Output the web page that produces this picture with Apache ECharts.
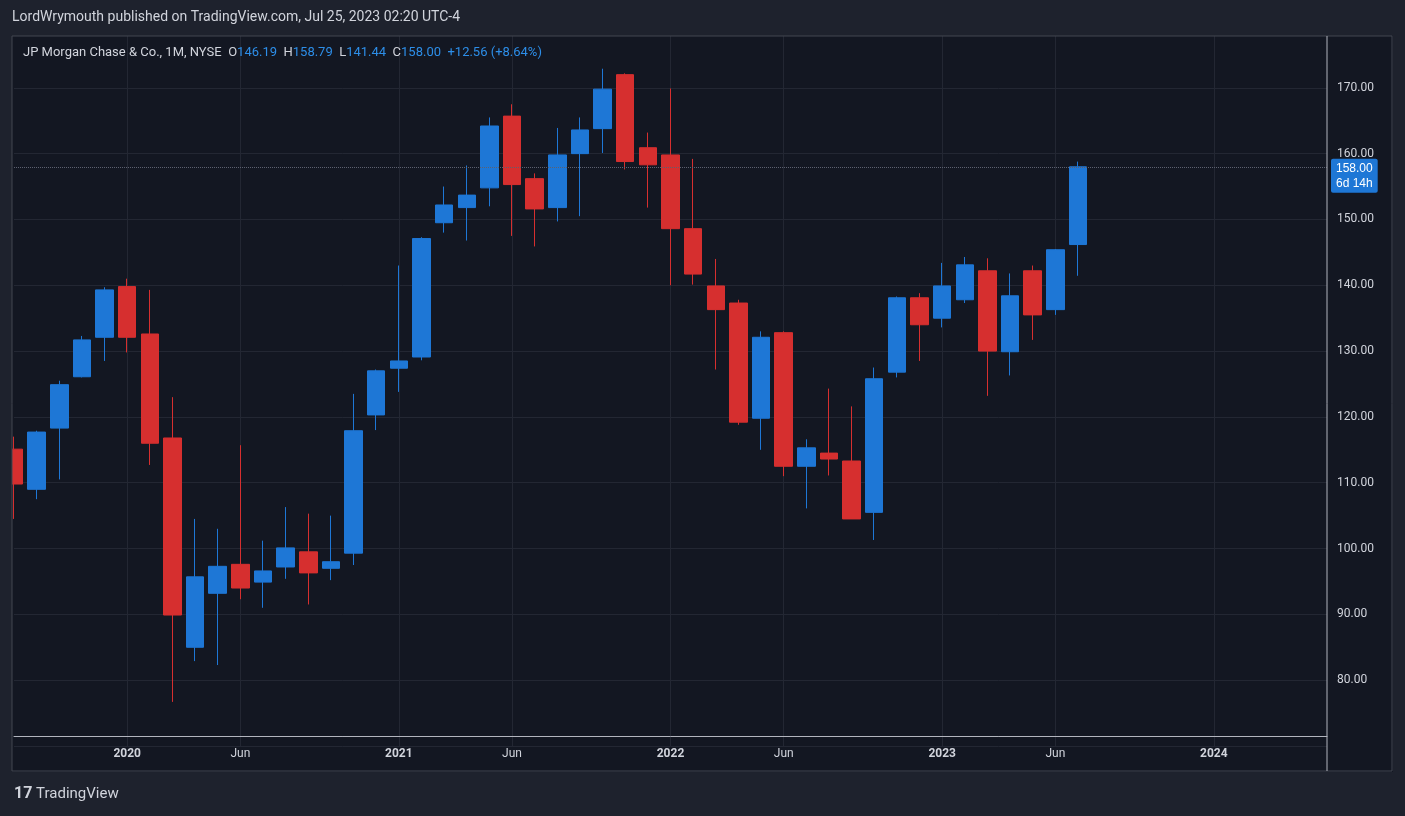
<!DOCTYPE html>
<html>
<head>
<meta charset="utf-8">
<script src="https://cdn.jsdelivr.net/npm/echarts@6/dist/echarts.min.js"></script>
<style>
  html, body { margin: 0; padding: 0; background: #1e222d; }
  #main { width: 1405px; height: 816px; }
</style>
</head>
<body>
<div id="main"></div>
<script>
// months Aug 2019 .. Jun 2024
var months = []
for (var y = 2019; y <= 2024; y++) {
    for (var m = 1; m <= 12; m++) {
        if (y === 2019 && m < 8) continue
        if (y === 2024 && m > 6) continue
        months.push(y + '-' + (m < 10 ? '0' + m : m))
    }
}

// [open, close, low, high]
var ohlc = [
    [115.1, 109.8, 104.5, 117.0],
    [109.0, 117.7, 107.5, 117.9],
    [118.3, 124.9, 110.5, 125.5],
    [126.1, 131.7, 126.0, 132.3],
    [132.1, 139.3, 128.5, 139.7],
    [139.8, 132.1, 129.8, 141.0],
    [132.6, 116.0, 112.7, 139.3],
    [116.8, 89.9, 76.7, 123.0],
    [85.0, 95.7, 82.9, 104.5],
    [93.2, 97.3, 82.3, 103.0],
    [97.6, 94.0, 92.3, 115.7],
    [94.9, 96.6, 91.0, 101.2],
    [97.2, 100.1, 95.4, 106.3],
    [99.5, 96.3, 91.5, 105.3],
    [97.0, 98.0, 95.2, 105.0],
    [99.3, 117.9, 97.5, 123.5],
    [120.3, 127.0, 118.0, 127.2],
    [127.4, 128.5, 123.8, 143.0],
    [129.1, 147.1, 128.6, 147.3],
    [149.5, 152.2, 148.0, 155.0],
    [151.8, 153.7, 146.8, 158.2],
    [154.8, 164.2, 152.0, 165.5],
    [165.7, 155.3, 147.5, 167.5],
    [156.2, 151.6, 145.9, 157.0],
    [151.8, 159.8, 149.7, 163.9],
    [160.0, 163.6, 150.5, 165.5],
    [163.8, 169.8, 160.1, 172.9],
    [172.0, 158.8, 157.6, 172.2],
    [160.9, 158.3, 151.8, 163.2],
    [159.8, 148.6, 140.0, 169.9],
    [148.6, 141.7, 140.1, 159.2],
    [139.9, 136.3, 127.2, 144.0],
    [137.3, 119.2, 118.8, 137.8],
    [119.8, 132.1, 115.0, 133.0],
    [132.8, 112.5, 111.0, 133.0],
    [112.5, 115.3, 106.1, 116.6],
    [114.5, 113.6, 111.1, 124.3],
    [113.3, 104.5, 104.5, 121.6],
    [105.5, 125.8, 101.3, 127.5],
    [126.8, 138.1, 126.0, 138.3],
    [138.1, 134.0, 128.5, 138.8],
    [135.0, 139.9, 133.6, 143.4],
    [137.8, 143.1, 137.3, 144.3],
    [142.2, 130.0, 123.2, 144.1],
    [129.9, 138.4, 126.3, 141.8],
    [142.2, 135.5, 131.7, 143.0],
    [136.3, 145.4, 135.5, 145.5],
    [146.19, 158.00, 141.44, 158.79]
]

var lastClose = 158.00

var seriesData = months.map(function (d, i) { return i < ohlc.length ? ohlc[i] : '-' })

function showMonth(i, v) {
    var m = v.slice(5)
    return (m === '01' || m === '06') && i < months.length - 1
}

var chart = echarts.init(document.getElementById('main'))
var option = {
    backgroundColor: '#131722',
    animation: false,
    grid: { left: 14, right: 78, top: 22, bottom: 70 },
    xAxis: {
        type: 'category',
        data: months,
        boundaryGap: false,
        offset: -10,
        axisLine: { lineStyle: { color: '#b2b5be', width: 1 } },
        axisTick: { show: false },
        splitLine: { show: true, interval: showMonth, lineStyle: { color: '#232733' } },
        axisLabel: {
            interval: showMonth,
            color: '#d1d4dc',
            fontSize: 12,
            margin: 12,
            fontFamily: 'Roboto, sans-serif',
            formatter: function (v) {
                return v.slice(5) === '01' ? '{y|' + v.slice(0, 4) + '}' : 'Jun'
            },
            rich: { y: { fontWeight: 'bold', color: '#d1d4dc', fontSize: 12 } }
        }
    },
    yAxis: {
        type: 'value',
        position: 'right',
        min: 70, max: 180, interval: 10,
        axisLine: { show: false },
        axisTick: { show: false },
        splitLine: { lineStyle: { color: '#232733' } },
        axisLabel: {
            showMinLabel: false, showMaxLabel: false,
            color: '#d1d4dc', fontSize: 12, margin: 10,
            fontFamily: 'Roboto, sans-serif',
            formatter: function (v) { return v.toFixed(2) }
        }
    },
    series: [{
        type: 'candlestick',
        data: seriesData,
        barWidth: 18,
        clip: true,
        itemStyle: {
            color: '#1e77d6', color0: '#d62f2f',
            borderColor: '#1e77d6', borderColor0: '#d62f2f', borderWidth: 1
        },
        markLine: {
            symbol: 'none',
            silent: true,
            data: [{ yAxis: lastClose }],
            lineStyle: { color: '#5d6170', type: 'dotted', width: 1 },
            label: {
                position: 'end',
                distance: 4,
                offset: [0, 9],
                formatter: lastClose.toFixed(2) + '\n6d 14h',
                backgroundColor: '#1e77d6',
                color: '#fff',
                fontSize: 12,
                lineHeight: 15,
                padding: [2, 5, 2, 5],
                borderRadius: 2
            }
        }
    }],
    graphic: [
        { type: 'rect', silent: true, shape: { x: 12, y: 36, width: 1380, height: 735 },
          style: { fill: 'none', stroke: '#434651', lineWidth: 1 }, z: 100 },
        { type: 'line', silent: true, shape: { x1: 1327, y1: 36, x2: 1327, y2: 771 },
          style: { stroke: '#b2b5be', lineWidth: 1 }, z: 100 },
        { type: 'rect', silent: true, shape: { x: 0, y: 0, width: 1405, height: 36 },
          style: { fill: '#1e222d' }, z: 90 },
        { type: 'rect', silent: true, shape: { x: 0, y: 772, width: 1405, height: 44 },
          style: { fill: '#1e222d' }, z: 90 },
        { type: 'rect', silent: true, shape: { x: 0, y: 0, width: 12, height: 816 },
          style: { fill: '#1e222d' }, z: 90 },
        { type: 'rect', silent: true, shape: { x: 1393, y: 0, width: 12, height: 816 },
          style: { fill: '#1e222d' }, z: 90 },
        { type: 'text', left: 12, top: 10, z: 101,
          style: { text: 'LordWrymouth published on TradingView.com, Jul 25, 2023 02:20 UTC-4',
                   fill: '#d1d4dc', fontSize: 14, fontFamily: 'Roboto, sans-serif' } },
        { type: 'text', left: 23, top: 46, z: 101,
          style: {
              text: '{n|JP Morgan Chase & Co., 1M, NYSE  }{n|O}{v|146.19  }{n|H}{v|158.79  }{n|L}{v|141.44  }{n|C}{v|158.00  }{v|+12.56 (+8.64%)}',
              rich: {
                  n: { fill: '#d1d4dc', fontSize: 13, fontFamily: 'Roboto, sans-serif' },
                  v: { fill: '#2d8ee8', fontSize: 13, fontFamily: 'Roboto, sans-serif' }
              }
          } },
        { type: 'text', left: 14, top: 786, z: 101,
          style: { text: '{l|17}{t| TradingView}',
                   rich: {
                       l: { fill: '#d1d4dc', fontSize: 16, fontWeight: 'bold', fontFamily: 'Roboto, sans-serif' },
                       t: { fill: '#d1d4dc', fontSize: 15, fontFamily: 'Roboto, sans-serif' }
                   } } }
    ]
}
chart.setOption(option)
</script>
</body>
</html>
